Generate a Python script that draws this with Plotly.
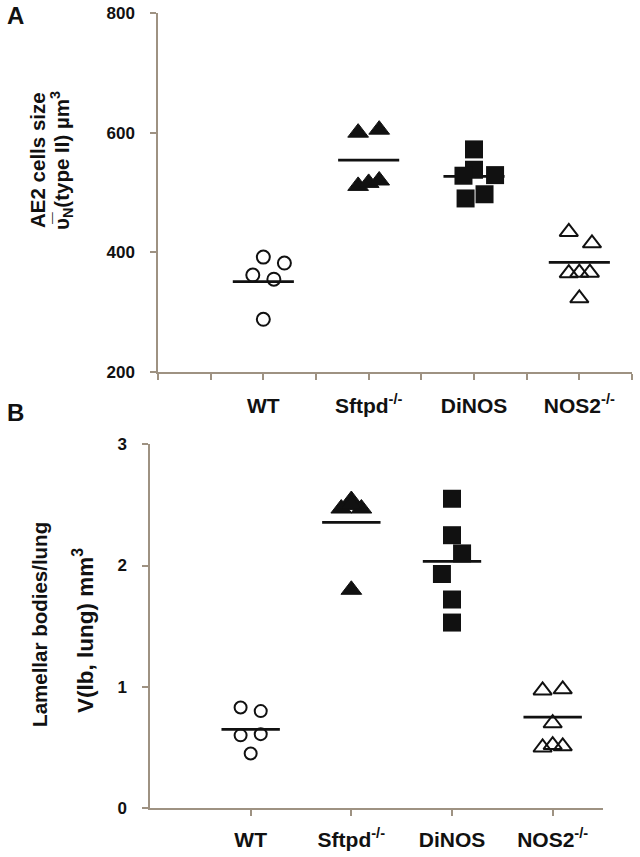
import plotly.graph_objects as go

categories = ["WT", "Sftpd<sup>-/-</sup>", "DiNOS", "NOS2<sup>-/-</sup>"]
cat_pos = [1, 2, 3, 4]

# Panel A: AE2 cell size (µm³)
a_wt = [392, 382, 362, 355, 288]
a_wt_dx = [0, 0.2, -0.1, 0.1, 0]
a_sftpd = [600, 605, 511, 516, 520]
a_sftpd_dx = [-0.1, 0.1, -0.1, 0, 0.1]
a_dinos = [572, 538, 528, 529, 490, 497]
a_dinos_dx = [0, 0, -0.1, 0.2, -0.08, 0.1]
a_nos2 = [434, 415, 365, 366, 366, 323]
a_nos2_dx = [-0.1, 0.12, -0.1, 0, 0.1, 0]
a_means = [351, 554, 527, 383]

# Panel B: lamellar bodies volume per lung (mm³)
b_wt = [0.83, 0.80, 0.60, 0.61, 0.45]
b_wt_dx = [-0.1, 0.1, -0.1, 0.1, 0]
b_sftpd = [2.54, 2.47, 2.47, 2.50, 1.80]
b_sftpd_dx = [0, -0.1, 0.1, 0, 0]
b_dinos = [2.55, 2.25, 2.10, 1.93, 1.72, 1.53]
b_dinos_dx = [0, 0, 0.1, -0.1, 0, 0]
b_nos2 = [0.97, 0.98, 0.70, 0.50, 0.52, 0.51]
b_nos2_dx = [-0.1, 0.1, 0, -0.1, 0, 0.1]
b_means = [0.65, 2.355, 2.035, 0.75]

W, H = 640, 857
AXC = "#9e9282"
INK = "#111111"
FONT = "Liberation Sans, Arial, sans-serif"


def ypx(y):
    # target picture row -> figure row (compensates the capture's vertical fit)
    return (y - 9) / 0.978


def yfrac(y):
    return 1 - ypx(y) / H


styles = [
    dict(symbol="circle-open", size=13, color=INK, line=dict(width=2, color=INK)),
    dict(symbol="triangle-up", size=18, color=INK, line=dict(width=1, color=INK)),
    dict(symbol="square", size=18, color=INK, line=dict(width=0, color=INK)),
    dict(symbol="triangle-up-open", size=16, color=INK, line=dict(width=2, color=INK)),
]
styles_b = [
    dict(symbol="circle-open", size=12, color=INK, line=dict(width=2, color=INK)),
    dict(symbol="triangle-up", size=18, color=INK, line=dict(width=1, color=INK)),
    dict(symbol="square", size=18, color=INK, line=dict(width=0, color=INK)),
    dict(symbol="triangle-up-open", size=16, color=INK, line=dict(width=2, color=INK)),
]

fig = go.Figure()


def add_panel(groups, offsets, means, mstyles, xa, ya):
    half = 0.29
    for c, m in zip(cat_pos, means):
        fig.add_trace(go.Scatter(x=[c - half, c + half], y=[m, m], mode="lines",
                                 line=dict(color=INK, width=2.7), xaxis=xa, yaxis=ya,
                                 showlegend=False, hoverinfo="skip"))
    for c, vals, dx, st in zip(cat_pos, groups, offsets, mstyles):
        fig.add_trace(go.Scatter(x=[c + d for d in dx], y=vals, mode="markers",
                                 marker=st, xaxis=xa, yaxis=ya, showlegend=False))


add_panel([a_wt, a_sftpd, a_dinos, a_nos2], [a_wt_dx, a_sftpd_dx, a_dinos_dx, a_nos2_dx],
          a_means, styles, "x", "y")
add_panel([b_wt, b_sftpd, b_dinos, b_nos2], [b_wt_dx, b_sftpd_dx, b_dinos_dx, b_nos2_dx],
          b_means, styles_b, "x2", "y2")

axis_common = dict(showline=True, linecolor=AXC, linewidth=1.5, ticks="outside",
                   tickcolor=AXC, tickwidth=1.5, showgrid=False, zeroline=False)
cat_font = dict(size=21, family=FONT, color=INK, weight="bold")
num_font = dict(size=17, family=FONT, color=INK, weight="bold")

fig.update_layout(
    width=W, height=H, margin=dict(l=0, r=0, t=0, b=0),
    paper_bgcolor="white", plot_bgcolor="white",
    font=dict(family=FONT, color=INK),
    xaxis=dict(domain=[158 / W, 632 / W], range=[0, 4.5], anchor="y",
               tickvals=cat_pos, ticktext=categories, ticklen=6,
               minor=dict(tickvals=[0, 0.5, 1.5, 2.5, 3.5, 4.5], ticks="outside",
                          ticklen=6, tickcolor=AXC, tickwidth=1.5, showgrid=False),
               tickfont=cat_font, ticklabelstandoff=8, **axis_common),
    yaxis=dict(domain=[yfrac(372), yfrac(13)], range=[200, 800], anchor="x",
               tickvals=[200, 400, 600, 800], ticklen=6,
               tickfont=num_font, ticklabelstandoff=12, **axis_common),
    xaxis2=dict(domain=[150 / W, 603 / W], range=[0, 4.5], anchor="y2",
                tickvals=cat_pos, ticktext=categories, ticklen=6,
                tickfont=cat_font, ticklabelstandoff=6, **axis_common),
    yaxis2=dict(domain=[yfrac(808.3), yfrac(444.3)], range=[0, 3], anchor="x2",
                tickvals=[0, 1, 2, 3], ticklen=6,
                tickfont=num_font, ticklabelstandoff=12, **axis_common),
)


def ann(text, px, py, size, angle=0):
    fig.add_annotation(text=text, x=px / W, y=yfrac(py), xref="paper", yref="paper",
                       showarrow=False, textangle=angle, xanchor="center", yanchor="middle",
                       font=dict(size=size, family=FONT, color=INK))


ann("<b>A</b>", 15, 16, 24)
ann("<b>B</b>", 15, 413, 24)
ann("<b>AE2 cells size</b>", 38, 160, 20.5, -90)
ann("<b>\u03c5\u0305<sub>N</sub>(type II) \u00b5m<sup>3</sup></b>", 62, 161, 20.5, -90)
ann("<b>Lamellar bodies/lung</b>", 40, 625, 20.5, -90)
ann("<b>V(lb, lung) mm<sup>3</sup></b>", 83, 631, 22.5, -90)

fix_page = (
    "document.body.style.margin='0';"
    "var d=document.getElementById('{plot_id}');"
    "d.style.position='absolute';d.style.left='0px';d.style.top='0px';"
)

fig.write_html("out.html", config={"displayModeBar": False}, post_script=fix_page)
